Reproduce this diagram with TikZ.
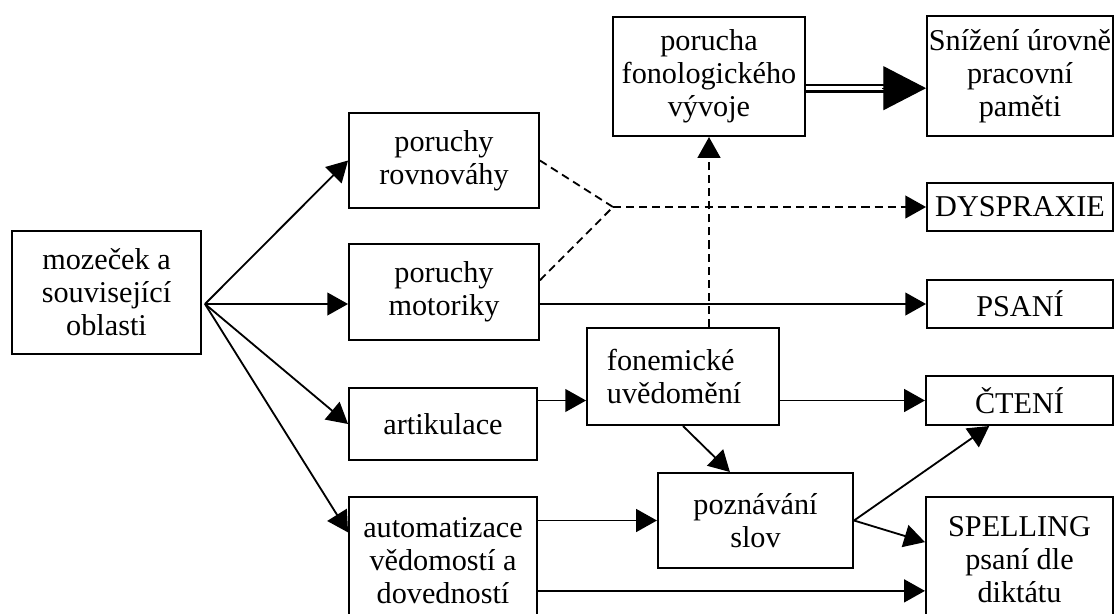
\documentclass[tikz,border=0pt]{standalone}
\usepackage{fontspec}
\setmainfont{Liberation Serif}
\usetikzlibrary{calc,arrows.meta}

\begin{document}
\begin{tikzpicture}[x=0.025cm,y=-0.025cm,
    box/.style={draw, line width=1.3pt, inner sep=0pt, align=center, font=\fontsize{21.5}{23.5}\selectfont},
    arr/.style={line width=1.3pt, -{Triangle[length=0.52cm,width=0.57cm]}},
    dashline/.style={line width=1.3pt, dash pattern=on 5.7pt off 3.6pt}]
              \useasboundingbox (0,0) rectangle (1116,613);
              % boxes
              \node[box, minimum width=4.73cm, minimum height=3.08cm] (mozecek) at (106.5,292.5) {mozeček a\\ související\\ oblasti};
              \node[box, minimum width=4.75cm, minimum height=2.38cm] (rovnovahy) at (444,160.5) {poruchy\\ rovnováhy};
              \node[box, minimum width=4.75cm, minimum height=2.4cm] (motoriky) at (444,292) {poruchy\\ motoriky};
              \node[box, minimum width=4.7cm, minimum height=1.8cm] (artikulace) at (443,424) {artikulace};
              \node[box, minimum width=4.7cm, minimum height=3.2cm] (automatizace) at (443,561) {automatizace\\ vědomostí a\\ dovedností};
              \node[box, minimum width=4.8cm, minimum height=2.98cm] (porucha) at (709,76.5) {porucha\\ fonologického\\ vývoje};
              \node[box, align=left, text width=3.8cm, inner xsep=0.5cm, minimum height=2.43cm] (fonemicke) at (683,376.5) {fonemické\\ uvědomění};
              \node[box, minimum width=4.88cm, minimum height=2.38cm] (poznavani) at (755.5,520.5) {poznávání\\ slov};
              \node[box, minimum width=4.65cm, minimum height=3cm] (snizeni) at (1020,76) {Snížení úrovně\\ pracovní\\ paměti};
              \node[box, minimum width=4.65cm, minimum height=1.2cm] (dyspraxie) at (1020,207) {DYSPRAXIE};
              \node[box, minimum width=4.65cm, minimum height=1.2cm] (psani) at (1020,304) {PSANÍ};
              \node[box, minimum width=4.68cm, minimum height=1.23cm] (cteni) at (1019.5,400.5) {ČTENÍ};
              \node[box, minimum width=4.68cm, minimum height=3.15cm] (spelling) at (1019.5,560) {SPELLING\\ psaní dle\\ diktátu};
              \coordinate (src) at (205,304);
              \coordinate (knot) at (613,207);
              \coordinate (auto2) at ($(automatizace.north east)!0.73!(automatizace.south east)$);
              \coordinate (dbl) at ($(snizeni.north west)!0.6!(snizeni.south west)$);
              % solid arrows
              \draw[arr] (src) -- (rovnovahy.west);
              \draw[arr] (src) -- (motoriky.west |- src);
              \draw[arr] (src) -- (artikulace.west);
              \draw[arr] (src) -- ($(automatizace.north west)!0.28!(automatizace.south west)$);
              \draw[arr] (motoriky.east |- psani) -- (psani.west);
              \draw[arr] (artikulace.east |- cteni) -- (fonemicke.west |- cteni);
              \draw[arr] (fonemicke.east |- cteni) -- (cteni.west);
              \draw[arr] (fonemicke.south) -- ($(poznavani.north west)!0.37!(poznavani.north east)$);
              \draw[arr] (automatizace.east |- poznavani) -- (poznavani.west);
              \draw[arr] (poznavani.east) -- ($(cteni.south west)!0.34!(cteni.south east)$);
              \draw[arr] (poznavani.east) -- ($(spelling.north west)!0.36!(spelling.south west)$);
              \draw[arr] (auto2) -- (spelling.west |- auto2);
              % dashed arrows
              \draw[dashline] (rovnovahy.east) -- (knot);
              \draw[dashline] ($(motoriky.north east)!0.38!(motoriky.south east)$) -- (knot);
              \draw[dashline, -{Triangle[length=0.52cm,width=0.57cm]}] (knot) -- (dyspraxie.west);
              \draw[dashline, -{Triangle[length=0.52cm,width=0.57cm]}] (porucha.south |- fonemicke.north) -- (porucha.south);
              % double arrow
              \draw[line width=1.8pt, double, double distance=2.6pt] (porucha.east |- dbl) -- ($(dbl)+(-38,0)$);
              \draw[line width=0.8pt, -{Triangle[length=1.07cm,width=1.1cm]}] ($(dbl)+(-44,0)$) -- (dbl);
\end{tikzpicture}
\end{document}
